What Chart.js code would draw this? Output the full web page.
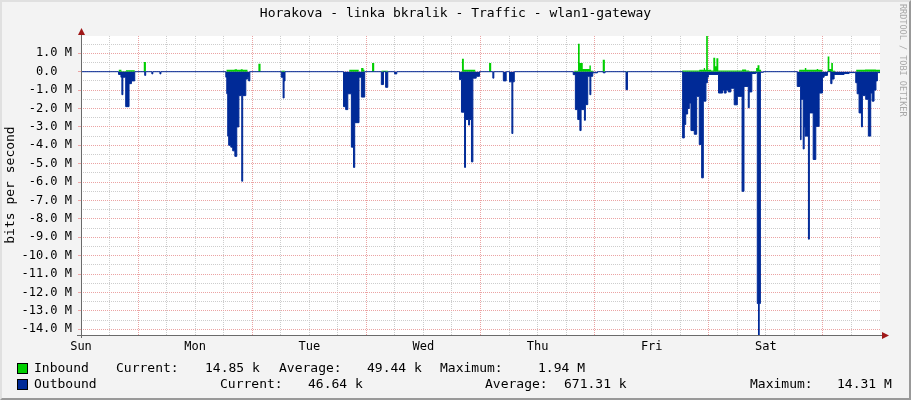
<!DOCTYPE html>
<html><head><meta charset="utf-8">
<script src="https://cdn.jsdelivr.net/npm/chart.js@4"></script>
<style>
html,body{margin:0;padding:0;background:#F3F3F3;}
#wrap{position:relative;width:911px;height:400px;overflow:hidden;background:#F3F3F3;font-family:"DejaVu Sans Mono",monospace;}
#c{position:absolute;left:0;top:0;}
.t{position:absolute;white-space:pre;color:#000;font-size:13px;line-height:16px;}
.box{position:absolute;width:9px;height:9px;border:1px solid #000;}
#frame{position:absolute;left:0;top:0;width:911px;height:400px;box-sizing:border-box;border-style:solid;border-width:2px;border-color:#E0E0E0 #999 #999 #E0E0E0;pointer-events:none;}
#wm{position:absolute;left:898px;top:4px;writing-mode:vertical-rl;font-size:8.5px;line-height:10px;color:#A8A8A8;white-space:pre;}
#ytitle{position:absolute;left:-70px;top:177px;width:160px;text-align:center;transform:rotate(-90deg);}
</style></head>
<body>
<div id="wrap">
<canvas id="c" width="911" height="400"></canvas>
<div class="t" id="title" style="left:0;top:5px;width:911px;text-align:center;"></div>
<div class="t" id="ytitle"></div>
<div id="wm"></div>
<div id="legend"></div>
<div id="frame"></div>
</div>
<script>
// ---- data (hours from Sunday 00:00, values in Mbit/s) ----
const chartTitle = 'Horakova - linka bkralik - Traffic - wlan1-gateway';
const yAxisTitle = 'bits per second';
const watermark = 'RRDTOOL / TOBI OETIKER';
const dayLabels = ['Sun','Mon','Tue','Wed','Thu','Fri','Sat'];
const seriesNames = ['Inbound','Outbound'];
const inboundStats = ['14.85 k','49.44 k','1.94 M'];
const outboundStats = ['46.64 k','671.31 k','14.31 M'];
const yMin = -14.31, yMax = 1.94;

const inboundSteps = [
[0,0],
[7.95,0.1],[8.5,0.02],[9.45,0.08],[11.3,0],
[13.2,0.53],[13.65,0],
[30.6,0.1],[32.3,0.13],[32.8,0.1],[33.6,0.13],[34.0,0.1],[35.0,0],
[37.3,0.43],[37.75,0],
[42.15,0.05],[42.85,0],
[56.4,0.1],[58.4,0],[58.9,0.2],[59.4,0.1],[59.6,0],
[61.2,0.47],[61.65,0],
[63.2,0.05],[64.5,0],
[80.1,0.7],[80.5,0.1],[82.9,0],
[85.8,0.47],[86.25,0],
[103.7,0.05],[104.5,1.52],[104.85,0.47],[105.5,0.15],[106.9,0.33],[107.2,0.05],[107.7,0],
[109.7,0.65],[110.15,0],
[114.6,0.03],[115.0,0],
[126.4,0.07],[130.0,0.1],[130.95,0.2],[131.2,0.1],[131.45,1.94],[131.8,0.1],[132.5,0.07],[132.95,0.76],[133.35,0.3],[133.6,0.73],[134.0,0.07],[139.0,0.12],[139.85,0.07],[140.5,0.03],[141.95,0.2],[142.25,0.35],[142.65,0.1],[143.0,0],
[151.0,0.1],[152.2,0.2],[152.5,0.1],[154.7,0.15],[155.0,0.1],[155.9,0],
[157.0,0.83],[157.35,0.15],[157.75,0.47],[158.1,0.05],[158.55,0],
[163.0,0.1],[164.85,0.12],[167.15,0.1],[168,0.015]
];

const outboundSteps = [
[0,0],
[7.9,0.15],[8.4,0.3],[8.6,1.25],[8.8,0.3],[9.4,1.9],[10.1,0.65],[10.6,0.5],[11.3,0],
[13.4,0.2],[13.6,0],[14.9,0.12],[15.1,0],[16.6,0.12],[16.8,0],
[30.45,0.3],[30.65,1.2],[30.85,3.5],[31.05,4.0],[31.5,4.1],[31.9,4.3],[32.35,4.6],[32.75,3.0],[33.2,1.3],[33.8,5.95],[34.0,1.3],[34.65,0.4],[35.05,0.3],[35.25,0.5],[35.5,0],
[42.1,0.3],[42.5,1.43],[42.7,0.5],[42.9,0],
[55.2,1.9],[55.65,2.06],[56.1,1.2],[56.85,4.1],[57.3,5.2],[57.55,2.77],[58.45,0.3],[58.95,1.38],[59.65,0],
[63.15,0.7],[63.6,0],[64.05,0.85],[64.5,0],[65.95,0.12],[66.4,0],
[79.6,0.43],[80.0,2.2],[80.65,5.2],[80.85,2.6],[81.5,2.9],[81.7,2.6],[82.1,4.9],[82.4,0.35],[83.1,0.25],[83.8,0],
[86.6,0.35],[86.8,0],[88.8,0.5],[89.4,0],[90.1,0.55],[90.6,3.36],[90.8,0.55],[91.1,0],
[103.5,0.16],[103.95,2.06],[104.45,2.6],[104.9,3.2],[105.15,2.06],[105.85,2.64],[106.05,1.79],[106.55,0.25],[107.0,1.25],[107.2,0.25],[107.6,0.06],[108.6,0],
[109.8,0.06],[110.2,0],[114.6,0.98],[114.9,0],
[126.5,3.6],[126.85,2.87],[127.15,2.3],[127.55,2.0],[127.9,1.7],[128.25,3.2],[128.95,3.4],[129.45,1.34],[130.0,3.96],[130.5,5.77],[130.85,1.6],[131.4,0.6],[131.7,0.3],[131.9,0.15],[134.05,1.16],[134.9,1.0],[135.25,1.16],[135.65,1.0],[136.1,1.1],[136.65,0.9],[137.35,1.8],[138.0,1.34],[139.0,6.5],[139.4,0.8],[140.3,1.96],[140.5,1.1],[141.05,0.1],[141.9,0.05],[142.2,12.6],[142.45,14.31],[142.6,12.6],[142.85,0.03],[143.5,0],
[150.6,0.8],[151.3,3.7],[151.4,1.5],[151.85,4.2],[152.05,3.0],[152.25,3.5],[152.95,9.1],[153.15,2.24],[153.95,4.77],[154.5,2.97],[155.2,1.16],[155.9,0.3],[156.25,0.2],[156.95,0],[157.65,0.65],[157.9,0.4],[158.35,0.15],[160.45,0.1],[161.5,0.05],[162.9,0.6],[163.2,1.2],[163.6,2.24],[164.1,3.0],[164.3,1.3],[165.0,1.5],[165.55,3.5],[166.05,1.16],[166.35,1.6],[166.75,1.0],[167.15,0.5],[167.45,0.05],[168,0.047]
];

const xTickHours = [0,6,12,18,24,30,36,42,48,54,60,66,72,78,84,90,96,102,108,114,120,126,132,138,144,150,156,162];
const yTickValues = [];
for (let v = -28; v <= 3; v++) yTickValues.push(v / 2);

// ---- texts ----
document.getElementById('title').textContent = chartTitle;
document.getElementById('ytitle').textContent = yAxisTitle;
document.getElementById('wm').textContent = watermark;
const leg = document.getElementById('legend');
function addText(txt, left, top){ const d=document.createElement('div'); d.className='t'; d.style.left=left+'px'; d.style.top=top+'px'; d.textContent=txt; leg.appendChild(d); }
function addBox(color, top){ const d=document.createElement('div'); d.className='box'; d.style.left='17px'; d.style.top=top+'px'; d.style.background=color; leg.appendChild(d); }
addBox('#00CF00', 363); addBox('#002A97', 379);
addText(seriesNames[0], 34, 360);
addText('Current:', 116, 360); addText(inboundStats[0], 205, 360);
addText('Average:', 279, 360); addText(inboundStats[1], 367, 360);
addText('Maximum:', 440, 360); addText(inboundStats[2], 538, 360);
addText(seriesNames[1], 34, 376);
addText('Current:', 220, 376); addText(outboundStats[0], 308, 376);
addText('Average:', 485, 376); addText(outboundStats[1], 564, 376);
addText('Maximum:', 750, 376); addText(outboundStats[2], 837, 376);

// ---- chart ----
const MINOR = '#CDCDCD', MAJOR = '#EBA3A3';
const frame = {
  id:'frame',
  beforeDraw(chart){ const {ctx, chartArea:a} = chart; ctx.save(); ctx.fillStyle='#FFFFFF'; ctx.fillRect(a.left, a.top, a.right-a.left, a.bottom-a.top); ctx.restore(); },
  afterDatasetsDraw(chart){
    const {ctx, chartArea:a} = chart;
    ctx.save();
    ctx.strokeStyle = '#6A6A6A'; ctx.lineWidth = 1;
    ctx.beginPath();
    ctx.moveTo(a.left+0.5, a.top-3); ctx.lineTo(a.left+0.5, a.bottom+3);
    ctx.moveTo(a.left-4, a.bottom+0.5); ctx.lineTo(a.right+5, a.bottom+0.5);
    ctx.stroke();
    ctx.fillStyle = '#A01818';
    ctx.beginPath(); ctx.moveTo(a.left+0.5, a.top-8); ctx.lineTo(a.left-3, a.top-1); ctx.lineTo(a.left+4, a.top-1); ctx.closePath(); ctx.fill();
    ctx.beginPath(); ctx.moveTo(a.right+9, a.bottom+0.5); ctx.lineTo(a.right+2, a.bottom-3); ctx.lineTo(a.right+2, a.bottom+4); ctx.closePath(); ctx.fill();
    ctx.restore();
  }
};

new Chart(document.getElementById('c'), {
  type:'line',
  data:{ datasets:[
    { label:seriesNames[1], data: outboundSteps.map(([h,v])=>({x:h, y:-v})), stepped:'before', fill:'origin',
      backgroundColor:'#002A97', borderColor:'#002A97', borderWidth:1, pointRadius:0, order:0 },
    { label:seriesNames[0], data: inboundSteps.map(([h,v])=>({x:h, y:v})), stepped:'before', fill:'origin',
      backgroundColor:'#00CF00', borderColor:'#00CF00', borderWidth:0, pointRadius:0, order:1 }
  ]},
  options:{
    animation:false, responsive:false, devicePixelRatio:1, events:[],
    layout:{ padding:{ top:36, right:31, left:0, bottom:0 } },
    plugins:{ legend:{display:false}, title:{display:false}, tooltip:{enabled:false} },
    scales:{
      x:{ type:'linear', min:0, max:168,
        afterFit(s){ s.height = 65; },
        afterBuildTicks(s){ s.ticks = xTickHours.map(v=>({value:v})); },
        grid:{ color: c => (c.tick && c.tick.value % 24 === 12) ? MAJOR : MINOR, lineWidth:1, drawTicks:true, tickLength:3, tickColor:'rgba(0,0,0,0)' },
        border:{ display:false, dash:[1,1] },
        ticks:{ autoSkip:false, maxRotation:0, minRotation:0, padding:2, color:'#000',
          font:{ family:'DejaVu Sans Mono', size:12 },
          callback:(v)=> (v % 24 === 0) ? dayLabels[v/24] : '' }
      },
      y:{ type:'linear', min:yMin, max:yMax,
        afterFit(s){ s.width = 81; },
        afterBuildTicks(s){ s.ticks = yTickValues.map(v=>({value:v})); },
        grid:{ color: c => (c.tick && Number.isInteger(c.tick.value)) ? MAJOR : MINOR, lineWidth:1, drawTicks:true, tickLength:3,
          tickColor: c => (c.tick && Number.isInteger(c.tick.value)) ? MAJOR : 'rgba(0,0,0,0)' },
        border:{ display:false, dash:[1,1] },
        ticks:{ autoSkip:false, padding:6, color:'#000', font:{ family:'DejaVu Sans Mono', size:12 },
          callback:(v)=> Number.isInteger(v) ? (v === 0 ? '0.0  ' : v.toFixed(1) + ' M') : '' }
      }
    }
  },
  plugins:[frame]
});
</script>
</body></html>
